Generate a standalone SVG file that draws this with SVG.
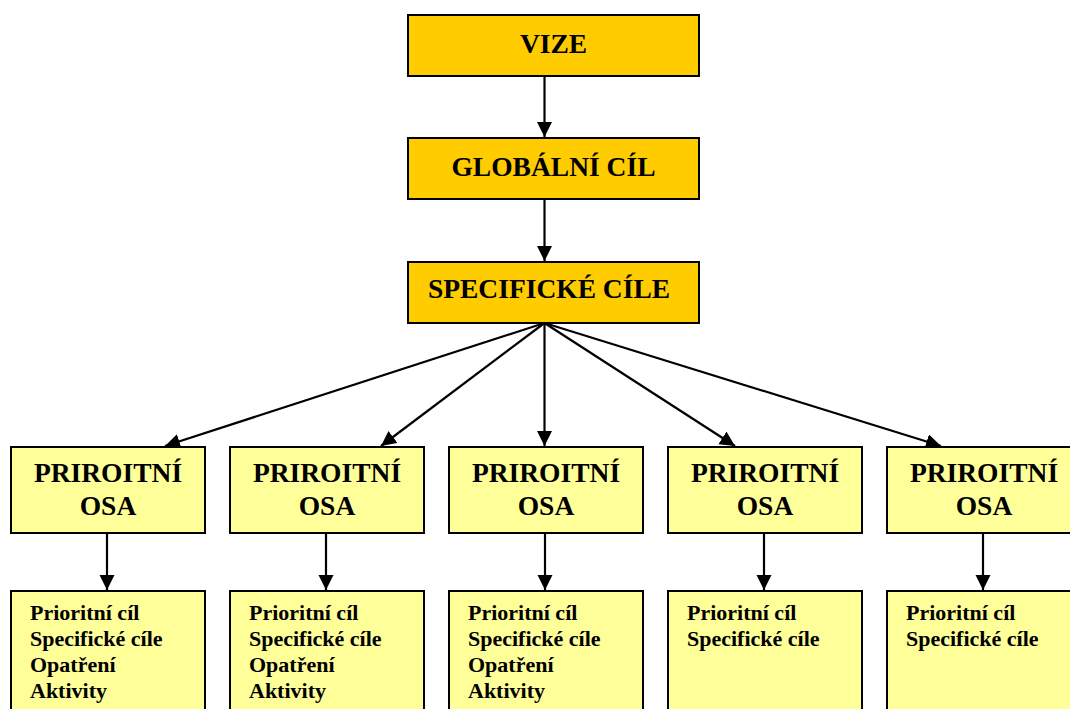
<svg xmlns="http://www.w3.org/2000/svg" width="1070" height="709" viewBox="0 0 1070 709">
<style>
.top{fill:#FFCC00;stroke:#000;stroke-width:2}
.low{fill:#FFFF99;stroke:#000;stroke-width:2}
.t{font-family:"Liberation Serif","Times New Roman",serif;font-weight:bold;fill:#000}
.big{font-size:27.5px;text-anchor:middle}
.sm{font-size:22px}
.c{stroke:#000;stroke-width:2.2;fill:none;marker-end:url(#ah)}
</style>
<defs>
<marker id="ah" markerUnits="userSpaceOnUse" markerWidth="16" markerHeight="16" refX="15" refY="7.5" orient="auto">
<path d="M0,0 L15,7.5 L0,15 Z" fill="#000"/>
</marker>
</defs>
<rect width="1070" height="709" fill="#fff"/>
<g id="connectors">
<line class="c" x1="544.5" y1="77" x2="544.5" y2="137"/>
<line class="c" x1="544.5" y1="200" x2="544.5" y2="261"/>
<line class="c" x1="544.5" y1="323" x2="165" y2="446"/>
<line class="c" x1="544.5" y1="323" x2="381" y2="446"/>
<line class="c" x1="544.5" y1="323" x2="544.5" y2="446"/>
<line class="c" x1="544.5" y1="323" x2="735" y2="446"/>
<line class="c" x1="544.5" y1="323" x2="941" y2="446"/>
<line class="c" x1="107" y1="533" x2="107" y2="590"/>
<line class="c" x1="326" y1="533" x2="326" y2="590"/>
<line class="c" x1="545" y1="533" x2="545" y2="590"/>
<line class="c" x1="764" y1="533" x2="764" y2="590"/>
<line class="c" x1="983" y1="533" x2="983" y2="590"/>
</g>
<g id="vize"><rect class="top" x="408" y="15" width="291" height="61"/><text class="t big" x="553.5" y="53">VIZE</text></g>
<g id="globalni"><rect class="top" x="408" y="138" width="291" height="61"/><text class="t big" x="553.5" y="176">GLOBÁLNÍ CÍL</text></g>
<g id="specificke"><rect class="top" x="408" y="262" width="291" height="61"/><text class="t big" x="549" y="298">SPECIFICKÉ CÍLE</text></g>
<g id="osa1"><rect class="low" x="11" y="447" width="194" height="86"/><text class="t big" x="108" y="482">PRIROITNÍ</text><text class="t big" x="108" y="515">OSA</text></g>
<g id="osa2"><rect class="low" x="230" y="447" width="194" height="86"/><text class="t big" x="327" y="482">PRIROITNÍ</text><text class="t big" x="327" y="515">OSA</text></g>
<g id="osa3"><rect class="low" x="449" y="447" width="194" height="86"/><text class="t big" x="546" y="482">PRIROITNÍ</text><text class="t big" x="546" y="515">OSA</text></g>
<g id="osa4"><rect class="low" x="668" y="447" width="194" height="86"/><text class="t big" x="765" y="482">PRIROITNÍ</text><text class="t big" x="765" y="515">OSA</text></g>
<g id="osa5"><rect class="low" x="887" y="447" width="194" height="86"/><text class="t big" x="984" y="482">PRIROITNÍ</text><text class="t big" x="984" y="515">OSA</text></g>
<g id="detail1"><rect class="low" x="11" y="591" width="194" height="130"/><text class="t sm" x="30" y="620">Prioritní cíl</text><text class="t sm" x="30" y="646">Specifické cíle</text><text class="t sm" x="30" y="672">Opatření</text><text class="t sm" x="30" y="698">Aktivity</text></g>
<g id="detail2"><rect class="low" x="230" y="591" width="194" height="130"/><text class="t sm" x="249" y="620">Prioritní cíl</text><text class="t sm" x="249" y="646">Specifické cíle</text><text class="t sm" x="249" y="672">Opatření</text><text class="t sm" x="249" y="698">Aktivity</text></g>
<g id="detail3"><rect class="low" x="449" y="591" width="194" height="130"/><text class="t sm" x="468" y="620">Prioritní cíl</text><text class="t sm" x="468" y="646">Specifické cíle</text><text class="t sm" x="468" y="672">Opatření</text><text class="t sm" x="468" y="698">Aktivity</text></g>
<g id="detail4"><rect class="low" x="668" y="591" width="194" height="130"/><text class="t sm" x="687" y="620">Prioritní cíl</text><text class="t sm" x="687" y="646">Specifické cíle</text></g>
<g id="detail5"><rect class="low" x="887" y="591" width="194" height="130"/><text class="t sm" x="906" y="620">Prioritní cíl</text><text class="t sm" x="906" y="646">Specifické cíle</text></g>
</svg>
